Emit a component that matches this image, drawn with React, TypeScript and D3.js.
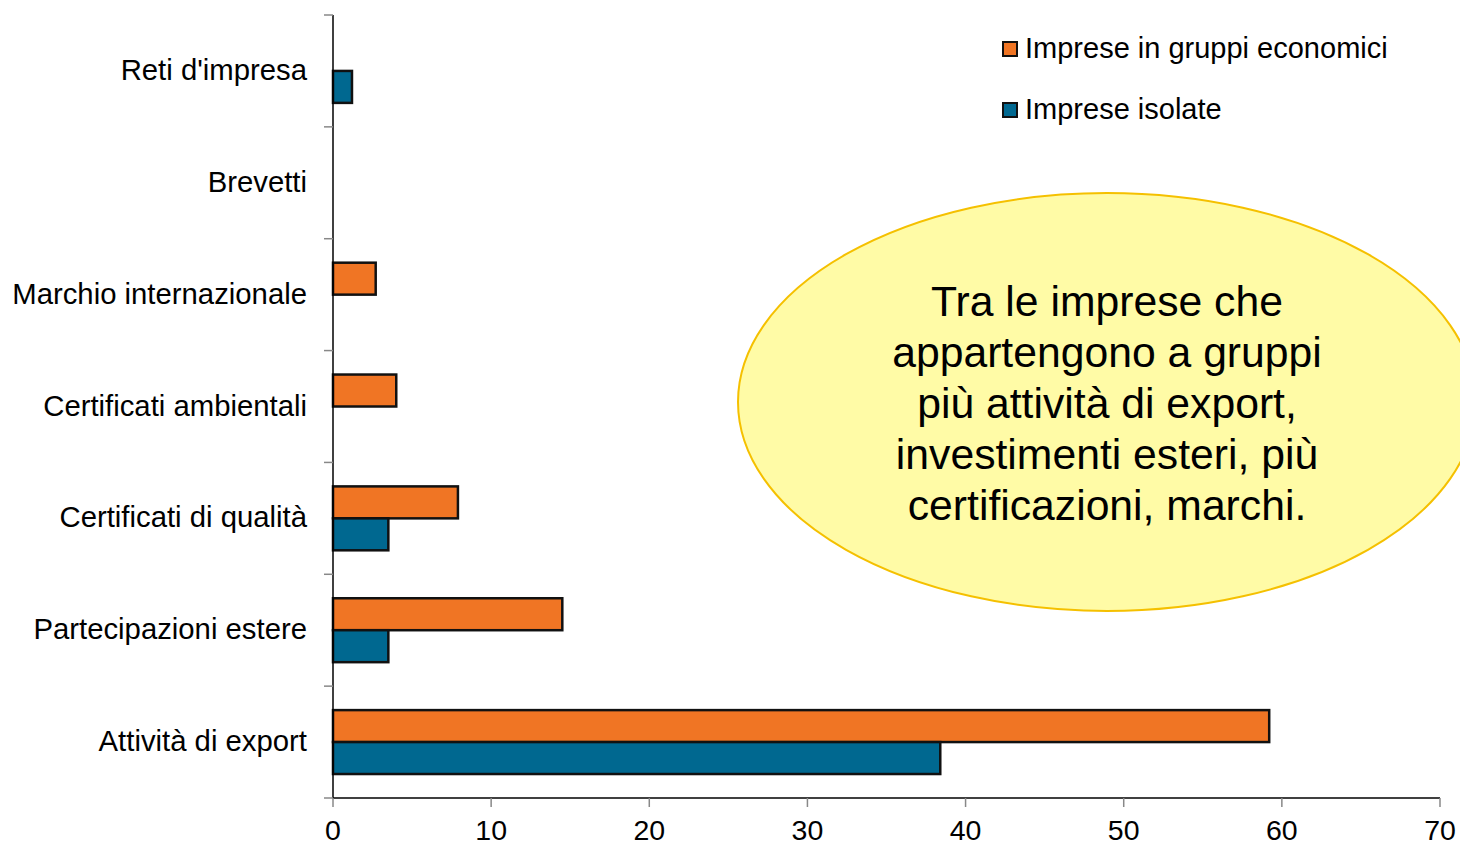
import React from "react";
import * as d3 from "d3";

const categories = [
  "Reti d'impresa",
  "Brevetti",
  "Marchio internazionale",
  "Certificati ambientali",
  "Certificati di qualità",
  "Partecipazioni estere",
  "Attività di export",
];
const seriesNames = ["Imprese in gruppi economici", "Imprese isolate"];
const gruppiValues: (number | null)[] = [null, null, 2.7, 4.0, 7.9, 14.5, 59.2];
const isolateValues: (number | null)[] = [1.2, null, null, null, 3.5, 3.5, 38.4];
const xTicks = [0, 10, 20, 30, 40, 50, 60, 70];
const calloutLines = [
  "Tra le imprese che",
  "appartengono a gruppi",
  "più attività di export,",
  "investimenti esteri, più",
  "certificazioni, marchi.",
];

const colors = ["#F07524", "#006890"];
const FONT = "'Liberation Sans', Arial, Helvetica, sans-serif";

export default function App() {
  const W = 1460;
  const H = 845;
  const left = 333;
  const right = 1440;
  const top = 15;
  const bottom = 798;

  const x = d3.scaleLinear().domain([0, 70]).range([left, right]);
  const y = d3.scaleBand<string>().domain(categories).range([top, bottom]).padding(0);
  const sub = d3
    .scaleBand<string>()
    .domain(seriesNames)
    .range([0, y.bandwidth()])
    .paddingInner(0)
    .paddingOuter(0.75);

  const seriesData = [gruppiValues, isolateValues];
  const bandEdges = [...categories.map((c) => y(c) as number), bottom];

  return (
    <svg
      width={W}
      height={H}
      style={{ position: "absolute", left: 0, top: 0, background: "#fff" }}
      fontFamily={FONT}
    >
      {/* bars */}
      {seriesData.map((vals, si) =>
        vals.map((v, ci) =>
          v == null ? null : (
            <rect
              key={`b-${si}-${ci}`}
              x={x(0)}
              y={(y(categories[ci]) as number) + (sub(seriesNames[si]) as number)}
              width={x(v) - x(0)}
              height={sub.bandwidth()}
              fill={colors[si]}
              stroke="#111"
              strokeWidth={2.5}
            />
          )
        )
      )}

      {/* y axis */}
      <line x1={left} x2={left} y1={top} y2={bottom} stroke="#000" strokeWidth={1.5} />
      {bandEdges.map((e, i) => (
        <line key={`yt-${i}`} x1={left - 9} x2={left} y1={e} y2={e} stroke="#888" strokeWidth={1.5} />
      ))}
      {categories.map((c) => (
        <text
          key={`yl-${c}`}
          x={307}
          y={(y(c) as number) + y.bandwidth() / 2 + 9}
          textAnchor="end"
          fontSize={29.3}
          fill="#000"
        >
          {c}
        </text>
      ))}

      {/* x axis */}
      <line x1={left} x2={right} y1={bottom} y2={bottom} stroke="#000" strokeWidth={1.5} />
      {xTicks.map((t) => (
        <g key={`xt-${t}`}>
          <line x1={x(t)} x2={x(t)} y1={bottom} y2={bottom + 9} stroke="#888" strokeWidth={1.5} />
          <text x={x(t)} y={840} textAnchor="middle" fontSize={28.5} fill="#000">
            {t}
          </text>
        </g>
      ))}

      {/* legend */}
      {seriesNames.map((s, i) => (
        <g key={`lg-${s}`}>
          <rect
            x={1003}
            y={42 + i * 61}
            width={14}
            height={14}
            fill={colors[i]}
            stroke="#111"
            strokeWidth={2}
          />
          <text x={1025} y={58 + i * 61} fontSize={29} fill="#000">
            {s}
          </text>
        </g>
      ))}

      {/* callout ellipse */}
      <ellipse cx={1107} cy={402} rx={369} ry={209} fill="#FFFBA6" stroke="#F5C000" strokeWidth={2} />
      {calloutLines.map((l, i) => (
        <text key={`cl-${i}`} x={1107} y={316 + i * 51} textAnchor="middle" fontSize={42.7} fill="#000">
          {l}
        </text>
      ))}
    </svg>
  );
}
